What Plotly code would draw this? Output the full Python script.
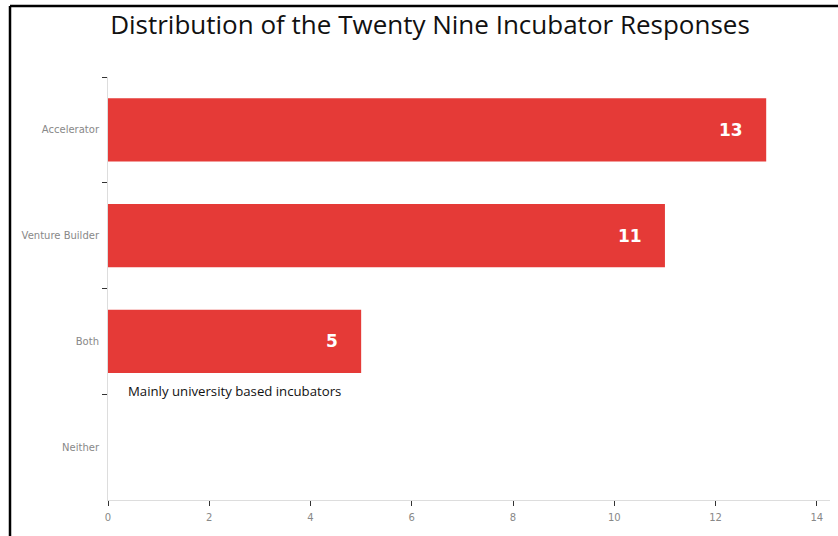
import plotly.graph_objects as go

# Incubator response categories and counts
categories = ["Accelerator", "Venture Builder", "Both", "Neither"]
counts = [13, 11, 5, 0]
x_ticks = [0, 2, 4, 6, 8, 10, 12, 14]

bar_color = "#e53a37"

W, H = 838, 536
L, R, T, B = 108, 8, 77, 36
plot_w = W - L - R
plot_h = H - T - B


def px_to_paper_x(px):
    return (px - L) / plot_w


def px_to_paper_y(py):
    return (H - B - py) / plot_h


fig = go.Figure()
fig.add_trace(go.Bar(
    y=categories,
    x=counts,
    orientation="h",
    marker=dict(color=bar_color, line=dict(width=0)),
    width=0.6,
    hoverinfo="x+y",
))

# value labels inside the bar ends
for cat, val in zip(categories, counts):
    if val > 0:
        fig.add_annotation(
            x=val, y=cat, xref="x", yref="y",
            text=f"<b>{val}</b>", showarrow=False,
            xanchor="right", xshift=-21,
            font=dict(family="DejaVu Sans", size=17, color="white"),
        )

fig.add_annotation(
    x=px_to_paper_x(126), y=px_to_paper_y(391), xref="paper", yref="paper",
    text="Mainly university based incubators", showarrow=False,
    xanchor="left", yanchor="middle",
    font=dict(family="Open Sans", size=13.2, color="#111111"),
)

# outer frame (top and left edges)
frame = dict(color="black", width=2.5)
fig.add_shape(type="line", xref="paper", yref="paper",
              x0=px_to_paper_x(10), x1=px_to_paper_x(W + 5),
              y0=px_to_paper_y(6), y1=px_to_paper_y(6), line=frame)
fig.add_shape(type="line", xref="paper", yref="paper",
              x0=px_to_paper_x(10), x1=px_to_paper_x(10),
              y0=px_to_paper_y(6), y1=px_to_paper_y(H + 5), line=frame)

fig.update_layout(
    width=W, height=H,
    margin=dict(l=L, r=R, t=T, b=B, pad=0),
    paper_bgcolor="white", plot_bgcolor="white",
    showlegend=False,
    title=dict(
        text="Distribution of the Twenty Nine Incubator Responses",
        x=(108 + 752) / 2 / W, xanchor="center",
        y=1 - 25 / H, yanchor="middle",
        font=dict(family="Open Sans", size=26, color="#111111"),
    ),
    xaxis=dict(
        range=[0, 14.26], tickvals=x_ticks,
        showgrid=False, zeroline=False,
        showline=True, linecolor="#dddddd", linewidth=1,
        ticks="outside", ticklen=5, tickcolor="#333333", tickwidth=1,
        tickfont=dict(family="DejaVu Sans", size=10, color="#888888"),
        ticklabelstandoff=3,
    ),
    yaxis=dict(
        categoryorder="array", categoryarray=categories,
        autorange="reversed",
        showgrid=False, zeroline=False,
        showline=True, linecolor="#dddddd", linewidth=1,
        ticks="outside", ticklen=5, tickcolor="#333333", tickwidth=1,
        tickson="boundaries",
        tickfont=dict(family="DejaVu Sans", size=10, color="#888888"),
        ticklabelstandoff=6,
    ),
)

fig.write_html("out.html")
